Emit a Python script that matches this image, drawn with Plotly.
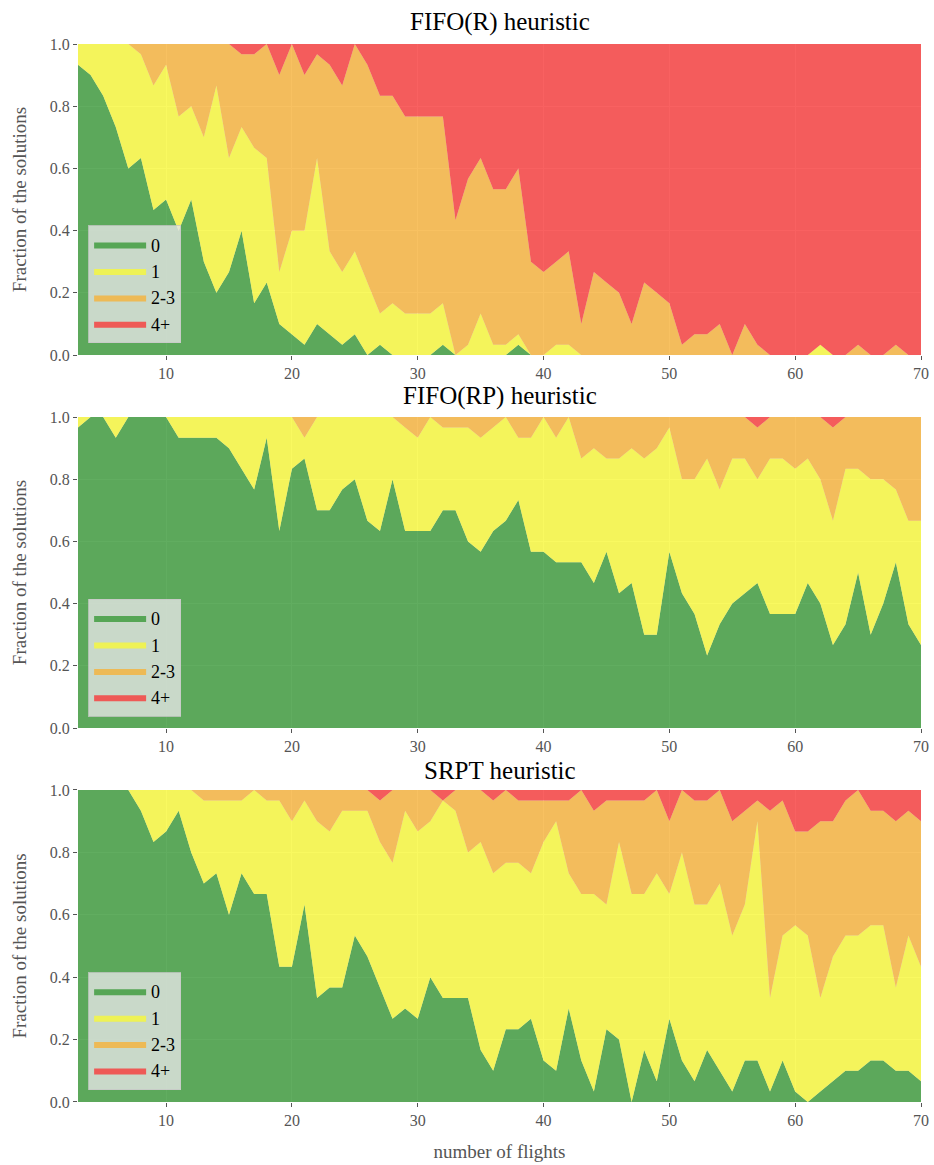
import plotly.graph_objects as go
import numpy as np

# number of flights (x)
flights = list(range(3, 71))
N_INST = 30  # instances per size

# Cumulative counts (out of 30) of solutions with at most k
# FIFO(R)
fifo_r_le0 = [28, 27, 25, 22, 18, 19, 14, 15, 12, 15, 9, 6, 8, 12, 5, 7, 3, 2, 1, 3,
              2, 1, 2, 0, 1, 0, 0, 0, 0, 1, 0, 0, 0, 0, 0, 1, 0, 0, 0, 0,
              0, 0, 0, 0, 0, 0, 0, 0, 0, 0, 0, 0, 0, 0, 0, 0, 0, 0, 0, 0,
              0, 0, 0, 0, 0, 0, 0, 0]
fifo_r_le1 = [30, 30, 30, 30, 30, 29, 26, 28, 23, 24, 21, 26, 19, 22, 20, 19, 8, 12, 12, 19,
              10, 8, 10, 7, 4, 5, 4, 4, 4, 5, 0, 1, 4, 1, 1, 2, 0, 0, 1, 1,
              0, 0, 0, 0, 0, 0, 0, 0, 0, 0, 0, 0, 0, 0, 0, 0, 0, 0, 0, 1,
              0, 0, 0, 0, 0, 0, 0, 0]
fifo_r_le3 = [30, 30, 30, 30, 30, 30, 30, 30, 30, 30, 30, 30, 30, 29, 29, 30, 27, 30, 27, 29,
              28, 26, 30, 28, 25, 25, 23, 23, 23, 23, 13, 17, 19, 16, 16, 18, 9, 8, 9, 10,
              3, 8, 7, 6, 3, 7, 6, 5, 1, 2, 2, 3, 0, 3, 1, 0, 0, 0, 0, 1,
              0, 0, 1, 0, 0, 1, 0, 0]
# FIFO(RP)
fifo_rp_le0 = [29, 30, 30, 28, 30, 30, 30, 30, 28, 28, 28, 28, 27, 25, 23, 28, 19, 25, 26, 21,
               21, 23, 24, 20, 19, 24, 19, 19, 19, 21, 21, 18, 17, 19, 20, 22, 17, 17, 16, 16,
               16, 14, 17, 13, 14, 9, 9, 17, 13, 11, 7, 10, 12, 13, 14, 11, 11, 11, 14, 12,
               8, 10, 15, 9, 12, 16, 10, 8]
fifo_rp_le1 = [30, 30, 30, 30, 30, 30, 30, 30, 30, 30, 30, 30, 30, 30, 30, 30, 30, 30, 28, 30,
               30, 30, 30, 30, 30, 30, 29, 28, 30, 29, 29, 29, 28, 29, 30, 28, 28, 30, 28, 30,
               26, 27, 26, 26, 27, 26, 27, 29, 24, 24, 26, 23, 26, 26, 24, 26, 26, 25, 26, 24,
               20, 25, 25, 24, 24, 23, 20, 20]
fifo_rp_le3 = [30, 30, 30, 30, 30, 30, 30, 30, 30, 30, 30, 30, 30, 30, 30, 30, 30, 30, 30, 30,
               30, 30, 30, 30, 30, 30, 30, 30, 30, 30, 30, 30, 30, 30, 30, 30, 30, 30, 30, 30,
               30, 30, 30, 30, 30, 30, 30, 30, 30, 30, 30, 30, 30, 30, 29, 30, 30, 30, 30, 30,
               29, 30, 30, 30, 30, 30, 30, 30]
# SRPT
srpt_le0 = [30, 30, 30, 30, 30, 28, 25, 26, 28, 24, 21, 22, 18, 22, 20, 20, 13, 13, 19, 10,
            11, 11, 16, 14, 11, 8, 9, 8, 12, 10, 10, 10, 5, 3, 7, 7, 8, 4, 3, 9,
            4, 1, 7, 6, 0, 5, 2, 8, 4, 2, 5, 3, 1, 4, 4, 1, 4, 1, 0, 1,
            2, 3, 3, 4, 4, 3, 3, 2]
srpt_le1 = [30, 30, 30, 30, 30, 30, 30, 30, 30, 30, 29, 29, 29, 29, 30, 29, 29, 27, 29, 27,
            26, 28, 28, 28, 25, 23, 28, 26, 27, 29, 28, 24, 25, 22, 23, 23, 22, 25, 27, 22,
            20, 20, 19, 25, 20, 20, 22, 20, 24, 19, 19, 21, 16, 19, 27, 10, 16, 17, 16, 10,
            14, 16, 16, 17, 17, 11, 16, 13]
srpt_le3 = [30, 30, 30, 30, 30, 30, 30, 30, 30, 30, 30, 30, 30, 30, 30, 30, 30, 30, 30, 30,
            30, 30, 30, 30, 29, 30, 30, 30, 30, 29, 30, 30, 30, 29, 30, 29, 29, 29, 29, 29,
            30, 28, 29, 29, 29, 29, 30, 27, 30, 29, 29, 30, 27, 28, 29, 28, 29, 26, 26, 27,
            27, 29, 30, 28, 28, 27, 28, 27]

titles = ["FIFO(R) heuristic", "FIFO(RP) heuristic", "SRPT heuristic"]
categories = ["0", "1", "2-3", "4+"]
fill_colors = ["rgba(58,152,56,0.8)", "rgba(248,248,56,0.8)",
               "rgba(246,178,58,0.8)", "rgba(248,58,58,0.8)"]

panels = [(fifo_r_le0, fifo_r_le1, fifo_r_le3),
          (fifo_rp_le0, fifo_rp_le1, fifo_rp_le3),
          (srpt_le0, srpt_le1, srpt_le3)]

domains = [(0.706, 1.0), (0.3535, 0.6474), (0.0, 0.2949)]
legend_y = [0.717, 0.364, 0.0113]
title_y = [1.0208, 0.6673, 0.3129]

SERIF = "Liberation Serif"
GRAY = "#555555"

fig = go.Figure()
for p, (le0, le1, le3) in enumerate(panels):
    le0 = np.array(le0); le1 = np.array(le1); le3 = np.array(le3)
    shares = [le0, le1 - le0, le3 - le1, N_INST - le3]
    sfx = "" if p == 0 else str(p + 1)
    for c, (name, col) in enumerate(zip(categories, fill_colors)):
        fig.add_trace(go.Scatter(
            x=flights, y=shares[c] / N_INST, name=name,
            stackgroup="s%d" % p, mode="lines",
            line=dict(width=0, color=col), fillcolor=col,
            xaxis="x" + sfx, yaxis="y" + sfx,
            legend="legend" + sfx, showlegend=True))

layout = dict(
    width=934, height=1165,
    margin=dict(l=78, r=13, t=44, b=63),
    paper_bgcolor="white", plot_bgcolor="#E5E5E5",
    font=dict(family=SERIF, size=16, color=GRAY),
    showlegend=True,
    annotations=[],
)
for p in range(3):
    sfx = "" if p == 0 else str(p + 1)
    layout["xaxis" + sfx] = dict(
        domain=[0, 1], anchor="y" + sfx, range=[3, 70], automargin=False,
        tickvals=[10, 20, 30, 40, 50, 60, 70], ticks="outside", ticklen=4,
        tickcolor=GRAY, showgrid=True, gridcolor="white", gridwidth=1,
        zeroline=False, showline=False,
        tickfont=dict(family=SERIF, size=16, color=GRAY))
    layout["yaxis" + sfx] = dict(
        domain=list(domains[p]), anchor="x" + sfx, range=[0, 1], automargin=False,
        tickvals=[0, 0.2, 0.4, 0.6, 0.8, 1.0], tickformat=".1f",
        ticks="outside", ticklen=4, tickcolor=GRAY,
        showgrid=True, gridcolor="white", gridwidth=1, zeroline=False,
        tickfont=dict(family=SERIF, size=16, color=GRAY),
        title=dict(text="Fraction of the solutions", standoff=18,
                   font=dict(family=SERIF, size=19, color=GRAY)))
    layout["legend" + sfx] = dict(
        x=0.012, y=legend_y[p], xanchor="left", yanchor="bottom",
        bgcolor="rgba(229,229,229,0.8)", bordercolor="rgba(200,200,200,0.8)",
        borderwidth=1, font=dict(family=SERIF, size=18, color="black"),
        traceorder="normal", itemwidth=52, tracegroupgap=0)
    layout["annotations"].append(dict(
        text=titles[p], xref="paper", yref="paper", x=0.5, y=title_y[p],
        xanchor="center", yanchor="middle", showarrow=False,
        font=dict(family=SERIF, size=25, color="black")))

layout["xaxis3"]["title"] = dict(text="number of flights", standoff=16,
                                 font=dict(family=SERIF, size=19, color=GRAY))
fig.update_layout(**layout)
fig.write_html("out.html", config={"displayModeBar": False},
               post_script="document.body.style.margin='0';document.body.style.overflow='hidden';")
